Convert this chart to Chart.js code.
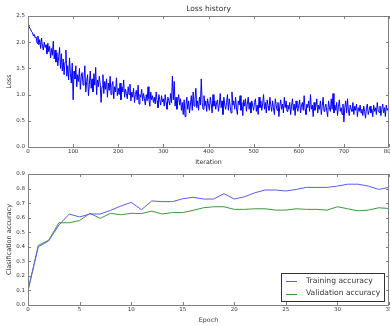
<!DOCTYPE html>
<html>
<head>
<meta charset="utf-8">
<script src="https://cdn.jsdelivr.net/npm/chart.js@4/dist/chart.umd.min.js"></script>
<style>
  html,body{margin:0;padding:0;background:#fff;}
  #wrap{position:relative;width:390px;height:326px;overflow:hidden;}
  .box{position:absolute;left:0;overflow:hidden;width:390px;}
</style>
</head>
<body>
<div id="wrap">
  <div class="box" style="top:0;height:165px;"><canvas id="c1" width="410" height="165"></canvas></div>
  <div class="box" style="top:165px;height:161px;"><canvas id="c2" width="410" height="161"></canvas></div>
</div>
<script>
// ---- data ----
const lossValues = [
2.33,2.30,2.27,2.24,2.20,2.18,2.12,2.15,2.08,2.10,
1.98,2.12,1.95,2.05,1.88,2.08,1.92,1.85,2.00,1.90,
1.95,1.78,1.98,1.82,1.92,1.70,1.88,1.75,2.02,1.68,
1.85,1.62,1.80,1.55,1.72,1.90,1.50,1.78,1.45,1.68,
1.38,1.62,1.85,1.35,1.55,1.28,1.70,1.40,1.22,1.60,
0.90,1.45,1.30,1.55,1.15,1.38,1.25,1.50,1.10,1.35,
1.42,1.18,1.30,1.55,1.05,1.25,1.38,0.98,1.20,1.45,
1.12,1.30,1.05,1.40,1.18,1.52,1.00,1.28,1.15,1.35,
1.20,0.85,1.15,1.38,1.02,1.25,1.10,1.30,0.95,1.22,
1.08,1.35,1.00,1.18,1.25,0.92,1.15,1.05,1.32,0.98,
1.12,1.00,1.22,0.90,1.15,1.05,1.28,0.95,1.10,1.02,
0.92,1.15,1.00,1.20,0.88,1.05,0.95,1.12,0.85,1.00,
1.08,0.90,1.18,0.82,1.00,0.95,1.10,0.88,1.02,0.92,
0.80,1.00,0.88,1.15,0.92,0.78,1.05,0.90,0.98,0.85,
0.95,0.82,1.05,0.88,0.75,1.00,0.90,0.80,0.98,0.86,
0.92,0.78,1.00,0.85,0.72,0.95,0.88,0.80,1.02,0.84,
1.35,0.90,1.25,0.78,0.95,0.72,0.88,1.00,0.80,0.92,
0.70,0.85,0.62,0.90,0.58,0.80,0.95,0.72,0.88,0.65,
0.82,0.98,0.70,1.05,0.78,0.90,1.12,0.75,0.88,0.70,
0.95,0.80,1.30,0.85,0.72,0.98,0.78,0.88,0.68,0.92,
0.80,0.70,0.95,0.82,0.65,1.00,0.78,0.88,0.72,0.85,
0.90,0.68,0.82,1.02,0.75,0.88,0.62,0.95,0.80,0.72,
0.85,1.00,0.70,0.92,0.78,0.65,1.05,0.80,0.88,0.72,
0.95,0.75,0.62,0.88,0.80,0.98,0.70,0.85,0.60,0.90,
0.78,0.92,0.68,0.82,0.95,0.72,0.85,0.65,0.88,0.78,
0.70,0.85,0.92,0.68,0.80,0.62,0.95,0.75,0.88,0.70,
0.82,1.00,0.72,0.85,0.65,0.90,0.78,0.70,0.95,0.80,
0.68,0.88,0.75,0.62,0.92,0.80,0.70,0.85,0.58,0.78,
0.90,0.72,0.82,0.65,0.95,0.75,0.88,0.68,0.80,0.72,
0.85,0.62,0.78,0.92,0.70,0.82,0.60,0.88,0.75,0.68,
0.80,0.90,0.65,0.78,0.85,0.70,0.98,0.72,0.62,0.82,
0.75,0.88,0.68,1.00,0.72,0.80,0.58,0.85,0.70,0.78,
0.92,0.65,0.80,0.72,0.88,0.62,0.78,0.95,0.68,0.75,
0.82,0.70,0.58,0.88,0.75,0.68,0.92,0.72,1.02,0.65,
0.80,0.70,0.85,0.60,0.78,0.90,0.68,0.75,0.62,0.82,
0.48,0.75,0.88,0.65,0.92,0.70,0.60,0.80,0.72,0.68,
0.85,0.62,0.78,0.70,0.82,0.58,0.75,0.68,0.80,0.65,
0.72,0.60,0.78,0.68,0.55,0.75,0.82,0.62,0.70,0.78,
0.65,0.72,0.58,0.80,0.68,0.75,0.62,0.85,0.70,0.66,
0.78,0.60,0.72,0.82,0.65,0.75,0.58,0.80,0.70,0.74
];
const lossIterations = lossValues.map((_, i) => i * 2);

const epochs = [0,1,2,3,4,5,6,7,8,9,10,11,12,13,14,15,16,17,18,19,20,21,22,23,24,25,26,27,28,29,30,31,32,33,34,35];
const trainAcc = [0.10,0.40,0.44,0.55,0.625,0.605,0.625,0.625,0.65,0.68,0.705,0.655,0.715,0.71,0.71,0.73,0.74,0.728,0.728,0.765,0.728,0.744,0.771,0.79,0.79,0.783,0.794,0.808,0.808,0.808,0.817,0.83,0.83,0.817,0.794,0.808];
const valAcc = [0.10,0.41,0.445,0.565,0.565,0.58,0.63,0.595,0.63,0.62,0.63,0.628,0.645,0.625,0.635,0.635,0.65,0.668,0.675,0.675,0.657,0.657,0.661,0.661,0.652,0.652,0.661,0.657,0.657,0.652,0.675,0.661,0.647,0.652,0.668,0.663];

const lossTitle = 'Loss history';
const lossXLabel = 'Iteration';
const lossYLabel = 'Loss';
const accXLabel = 'Epoch';
const accYLabel = 'Clasification accuracy';
const seriesNames = ['Training accuracy', 'Validation accuracy'];

// ---- styling / helpers ----
const FONT = '"DejaVu Sans", sans-serif';
const TEXT = '#333';
const FRAME = '#808080';

const decor = {
  id: 'decor',
  afterDraw(chart, args, o) {
    const {ctx, chartArea: a, scales} = chart;
    ctx.save();
    ctx.strokeStyle = FRAME;
    ctx.lineWidth = 1;
    ctx.beginPath();
    scales.x.ticks.forEach(t => {
      const px = Math.round(scales.x.getPixelForValue(t.value)) + 0.5;
      ctx.moveTo(px, a.bottom); ctx.lineTo(px, a.bottom - 3);
      ctx.moveTo(px, a.top); ctx.lineTo(px, a.top + 3);
    });
    scales.y.ticks.forEach(t => {
      const py = Math.round(scales.y.getPixelForValue(t.value)) + 0.5;
      ctx.moveTo(a.left, py); ctx.lineTo(a.left + 3, py);
      ctx.moveTo(a.right, py); ctx.lineTo(a.right - 3, py);
    });
    ctx.stroke();
    ctx.strokeRect(Math.round(a.left) + 0.5, Math.round(a.top) + 0.5,
                   Math.round(a.right - a.left) - 1, Math.round(a.bottom - a.top));
    ctx.fillStyle = TEXT;
    ctx.textAlign = 'center';
    ctx.textBaseline = 'middle';
    const cx = (a.left + a.right) / 2;
    const cy = (a.top + a.bottom) / 2;
    if (o.title) {
      ctx.font = '7.5px ' + FONT;
      ctx.fillText(o.title, cx, a.top - 7);
    }
    if (o.xlabel) {
      ctx.font = '6.3px ' + FONT;
      ctx.fillText(o.xlabel, cx, a.bottom + o.xlabelOff);
    }
    if (o.ylabel) {
      ctx.font = '6.5px ' + FONT;
      ctx.save();
      ctx.translate(9, cy);
      ctx.rotate(-Math.PI / 2);
      ctx.fillText(o.ylabel, 0, 0);
      ctx.restore();
    }
    if (o.legend) {
      const bw = 103, bh = 28;
      const bx = Math.round(a.right) - 5 - bw, by = Math.round(a.bottom) - 4 - bh;
      ctx.fillStyle = '#fff';
      ctx.fillRect(bx, by, bw, bh);
      ctx.strokeStyle = '#333';
      ctx.lineWidth = 1;
      ctx.strokeRect(bx + 0.5, by + 0.5, bw, bh);
      ctx.font = '7.6px ' + FONT;
      ctx.textAlign = 'left';
      chart.data.datasets.forEach((ds, i) => {
        const yy = by + 8 + i * 12.5;
        ctx.strokeStyle = ds.borderColor;
        ctx.lineWidth = 1;
        ctx.beginPath();
        ctx.moveTo(bx + 5, Math.round(yy) + 0.5);
        ctx.lineTo(bx + 16, Math.round(yy) + 0.5);
        ctx.stroke();
        ctx.fillStyle = TEXT;
        ctx.fillText(ds.label, bx + 25, yy);
      });
    }
    ctx.restore();
  }
};

function axes(xmin, xmax, xstep, ymin, ymax, ystep, xh) {
  return {
    x: {
      type: 'linear', min: xmin, max: xmax,
      grid: {display: false, drawTicks: false},
      border: {display: false},
      ticks: {stepSize: xstep, padding: 1.5, color: TEXT, font: {family: FONT, size: 5.5},
              maxRotation: 0, autoSkip: false, callback: v => String(v)},
      afterFit: s => { s.height = xh; s.paddingLeft = 0; s.paddingRight = 0; }
    },
    y: {
      type: 'linear', min: ymin, max: ymax,
      grid: {display: false, drawTicks: false},
      border: {display: false},
      ticks: {stepSize: ystep, padding: 3, color: TEXT, font: {family: FONT, size: 5.5},
              autoSkip: false, callback: v => Number(v).toFixed(1)},
      afterFit: s => { s.width = 28; }
    }
  };
}

new Chart(document.getElementById('c1'), {
  type: 'line',
  data: {
    datasets: [{
      label: 'loss',
      data: lossIterations.map((it, i) => ({x: it, y: lossValues[i]})),
      borderColor: '#0000ff', borderWidth: 1, pointRadius: 0, tension: 0, fill: false
    }]
  },
  options: {
    responsive: false, animation: false, events: [],
    layout: {padding: {top: 16, left: 0, right: 21, bottom: 0}},
    scales: axes(0, 800, 100, 0, 2.5, 0.5, 18),
    plugins: {
      legend: {display: false}, tooltip: {enabled: false},
      decor: {title: lossTitle, xlabel: lossXLabel, ylabel: lossYLabel, xlabelOff: 15}
    }
  },
  plugins: [decor]
});

new Chart(document.getElementById('c2'), {
  type: 'line',
  data: {
    datasets: [
      {label: seriesNames[0], data: epochs.map((e, i) => ({x: e, y: trainAcc[i]})),
       borderColor: '#5a5aff', borderWidth: 1, pointRadius: 0, tension: 0, fill: false},
      {label: seriesNames[1], data: epochs.map((e, i) => ({x: e, y: valAcc[i]})),
       borderColor: '#3a9a3a', borderWidth: 1, pointRadius: 0, tension: 0, fill: false}
    ]
  },
  options: {
    responsive: false, animation: false, events: [],
    layout: {padding: {top: 9, left: 0, right: 21, bottom: 0}},
    scales: axes(0, 35, 5, 0, 0.9, 0.1, 21),
    plugins: {
      legend: {display: false}, tooltip: {enabled: false},
      decor: {xlabel: accXLabel, ylabel: accYLabel, xlabelOff: 15, legend: true}
    }
  },
  plugins: [decor]
});
</script>
</body>
</html>
